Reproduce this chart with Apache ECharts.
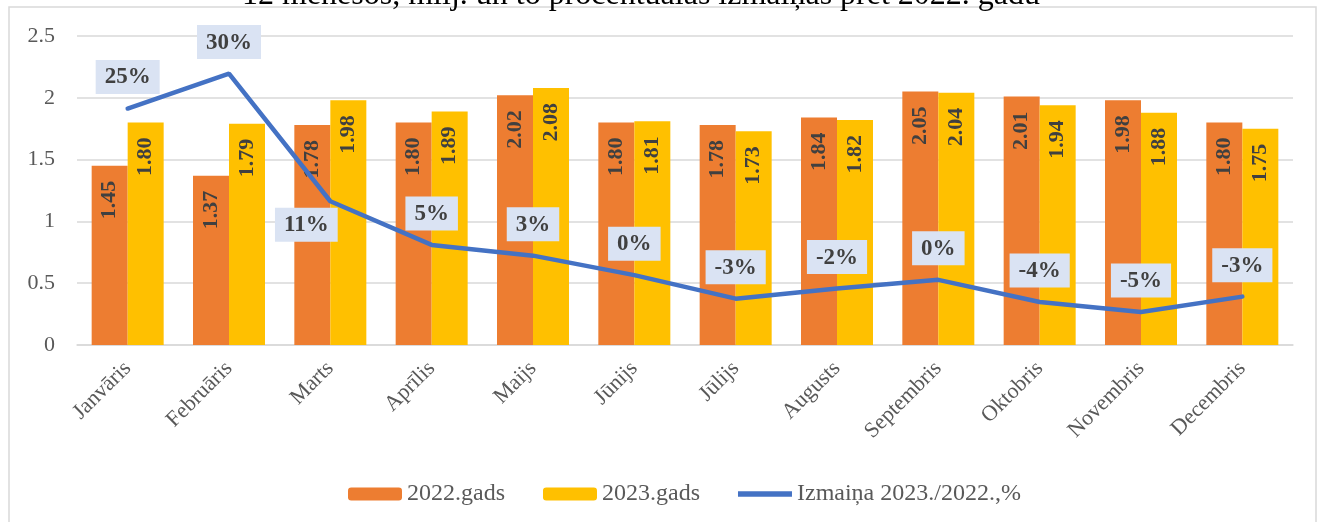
<!DOCTYPE html>
<html>
<head>
<meta charset="utf-8">
<script src="https://cdn.jsdelivr.net/npm/echarts@6/dist/echarts.min.js"></script>
<style>
  html, body { margin: 0; padding: 0; background: #fff; }
  #main { width: 1322px; height: 522px; }
</style>
</head>
<body>
<div id="main"></div>
<script>
var months = ["Janvāris", "Februāris", "Marts", "Aprīlis", "Maijs", "Jūnijs", "Jūlijs", "Augusts", "Septembris", "Oktobris", "Novembris", "Decembris"];
var y2022 = [1.45, 1.37, 1.78, 1.80, 2.02, 1.80, 1.78, 1.84, 2.05, 2.01, 1.98, 1.80];
var y2023 = [1.80, 1.79, 1.98, 1.89, 2.08, 1.81, 1.73, 1.82, 2.04, 1.94, 1.88, 1.75];
// izmaiņa, % (nolasīts no līknes)
var change = [25.2, 30.4, 11.4, 4.9, 3.3, 0.4, -3.1, -1.6, -0.3, -3.6, -5.1, -2.8];
var yTicks = [0, 0.5, 1, 1.5, 2, 2.5];

var serif = "Liberation Serif, Times New Roman, serif";
var myChart = echarts.init(document.getElementById("main"));

var barLabel = {
  show: true,
  position: "insideTop",
  rotate: 90,
  align: "right",
  verticalAlign: "middle",
  distance: 15,
  fontFamily: serif,
  fontWeight: "bold",
  fontSize: 22,
  color: "#404040",
  formatter: function (p) { return p.value.toFixed(2); }
};

// marts - etiķete zem līknes, pārējās virs
var labelData = change.map(function (v, i) {
  if (i === 2) {
    return { value: v, label: { position: "bottom", offset: [-24, -8] } };
  }
  return v;
});

var option = {
  animation: false,
  title: {
    text: "12 mēnešos, milj. un to procentuālās izmaiņas pret 2022. gadu",
    left: 237,
    top: -25,
    textStyle: { fontFamily: serif, fontSize: 32, fontWeight: "normal", color: "#000" }
  },
  graphic: [
    {
      type: "rect",
      shape: { x: 9, y: 7, width: 1307, height: 530 },
      style: { fill: "none", stroke: "#d9d9d9", lineWidth: 1.5 },
      z: -1
    }
  ],
  grid: { left: 77, right: 29, top: 36, bottom: 177 },
  legend: {
    bottom: 11,
    left: 343,
    itemWidth: 54,
    itemHeight: 13,
    itemGap: 38,
    textStyle: { fontFamily: serif, fontSize: 24, color: "#595959" },
    data: [
      "2022.gads",
      "2023.gads",
      { name: "Izmaiņa 2023./2022.,%", icon: "path://M0,0 L10,0 L10,1 L0,1 Z" }
    ]
  },
  xAxis: {
    type: "category",
    data: months,
    axisTick: { show: false },
    axisLine: { lineStyle: { color: "#d9d9d9", width: 1.5 } },
    axisLabel: {
      rotate: 45,
      interval: 0,
      margin: 20,
      fontFamily: serif,
      fontSize: 22,
      color: "#595959"
    }
  },
  yAxis: [
    {
      type: "value",
      min: 0,
      max: 2.5,
      interval: 0.5,
      axisLine: { show: false },
      axisTick: { show: false },
      splitLine: { lineStyle: { color: "#d9d9d9", width: 1.5 } },
      axisLabel: {
        margin: 22,
        fontFamily: serif,
        fontSize: 22,
        color: "#595959",
        formatter: function (v) { return yTicks.indexOf(v) >= 0 ? String(v) : ""; }
      }
    },
    {
      type: "value",
      min: -10,
      max: 36,
      show: false,
      splitLine: { show: false }
    }
  ],
  series: [
    {
      name: "2022.gads",
      type: "bar",
      data: y2022,
      barWidth: 36,
      barGap: "0%",
      itemStyle: { color: "#ED7D31" },
      label: barLabel
    },
    {
      name: "2023.gads",
      type: "bar",
      data: y2023,
      barWidth: 36,
      barGap: "0%",
      itemStyle: { color: "#FFC000" },
      label: barLabel
    },
    {
      name: "Izmaiņa 2023./2022.,%",
      type: "line",
      yAxisIndex: 1,
      data: change,
      symbol: "none",
      lineStyle: { color: "#4472C4", width: 4.5, cap: "round" },
      itemStyle: { color: "#4472C4" },
      z: 5
    },
    {
      name: "etiķetes",
      type: "scatter",
      yAxisIndex: 1,
      data: labelData,
      symbolSize: 1,
      itemStyle: { color: "rgba(0,0,0,0)", opacity: 1 },
      z: 6,
      label: {
        show: true,
        position: "top",
        distance: 14,
        fontFamily: serif,
        fontWeight: "bold",
        fontSize: 23,
        color: "#404040",
        backgroundColor: "#DAE3F3",
        padding: [6, 9, 5, 9],
        formatter: function (p) { return Math.round(p.value) + "%"; }
      }
    }
  ]
};
myChart.setOption(option);
</script>
</body>
</html>
